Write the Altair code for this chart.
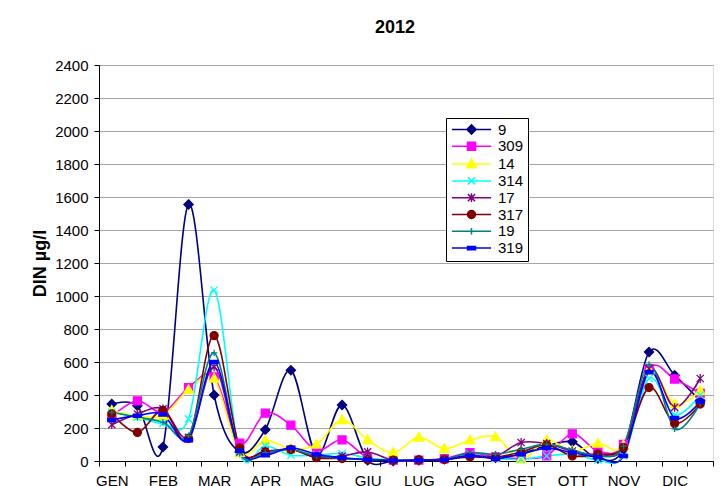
import altair as alt
import pandas as pd

FONT = "Liberation Sans"

months = ["GEN", "FEB", "MAR", "APR", "MAG", "GIU", "LUG", "AGO", "SET", "OTT", "NOV", "DIC"]
series_names = ["9", "309", "14", "314", "17", "317", "19", "319"]
colors = ["#000080", "#FF00FF", "#FFFF00", "#00FFFF", "#800080", "#800000", "#008080", "#0000FF"]

# two samplings per month (24 points)
s9 = [345, 335, 85, 1555, 400, 55, 190, 550, 40, 340, 5, 0, 5, 10, 40, 20, 45, 92, 116, 16, 75, 660, 520, 365]
s309 = [270, 365, 295, 445, 510, 108, 290, 217, 65, 128, 20, 5, 5, 15, 50, 24, 16, 31, 165, 61, 100, 560, 497, 410]
s14 = [305, 275, 275, 432, 500, 50, 124, 75, 100, 249, 128, 51, 143, 75, 126, 145, 10, 125, 61, 106, 95, 552, 345, 425]
s314 = [295, 265, 228, 255, 1035, 50, 92, 35, 37, 45, 20, 5, 5, 10, 40, 16, 10, 31, 41, 6, 30, 500, 280, 400]
s17 = [220, 285, 316, 143, 570, 55, 60, 70, 25, 30, 55, 5, 5, 10, 35, 30, 112, 106, 61, 41, 80, 560, 325, 500]
s317 = [286, 173, 306, 137, 760, 80, 55, 70, 20, 15, 8, 5, 6, 10, 24, 24, 55, 98, 31, 41, 83, 445, 228, 345]
s19 = [296, 265, 235, 153, 655, 48, 50, 70, 30, 16, 10, 5, 5, 10, 51, 41, 71, 102, 67, 30, 90, 585, 195, 350]
s319 = [249, 275, 282, 126, 600, 62, 35, 80, 40, 20, 8, 3, 5, 8, 31, 14, 41, 78, 51, 24, 30, 538, 260, 360]

all_series = [s9, s309, s14, s314, s17, s317, s19, s319]

rows = []
for k, (name, vals) in enumerate(zip(series_names, all_series)):
    for i, v in enumerate(vals):
        rows.append({"series": name, "pos": i + 0.5, "din": v, "k": k})
df = pd.DataFrame(rows)

circle = "M-1,0A1,1,0,1,1,1,0A1,1,0,1,1,-1,0Z"
marker_paths = [
    "M0,-1.15L1.15,0L0,1.15L-1.15,0Z",          # diamond
    "M-1,-1H1V1H-1Z",                            # square
    "M0,-1.25L1.2,0.9L-1.2,0.9Z",               # triangle
    "M-0.9,-0.9L0.9,0.9M-0.9,0.9L0.9,-0.9",     # x
    "M-0.9,-0.9L0.9,0.9M-0.9,0.9L0.9,-0.9M0,-1.1V1.1",  # star
    circle,                                       # circle
    "M-0.8,0H0.8M0,-0.8V0.8",                   # plus
    "M-1,-0.4H1V0.4H-1Z",                        # dash
]
legend_paths = ["M-4.9,0H4.9" + p for p in marker_paths]

label_expr = (
    "datum.value % 2 == 0 && datum.value < 24 ? "
    + "[" + ",".join("'" + m + "'" for m in months) + "][datum.value / 2] : ''"
)

x_enc = alt.X(
    "pos:Q",
    scale=alt.Scale(domain=[0, 24], nice=False, zero=False),
    axis=alt.Axis(
        values=list(range(25)), labelExpr=label_expr, labelOffset=12.8, labelAlign="center",
        labelFlush=False, labelOverlap=False, tickSize=5, labelPadding=7, grid=False,
        domainColor="black", tickColor="black", labelColor="black", labelFontSize=15,
        labelFont=FONT, title=None,
    ),
)
y_enc = alt.Y(
    "din:Q",
    scale=alt.Scale(domain=[0, 2400], nice=False),
    axis=alt.Axis(
        values=list(range(0, 2401, 200)), format="d", tickSize=5, labelPadding=6, grid=True,
        gridColor="#a6a6a6", domainColor="black", tickColor="black", labelColor="black",
        labelFontSize=15, labelFont=FONT, title="DIN µg/l", titleFont=FONT, titleFontSize=18,
        titleFontWeight="bold", titleColor="black", titleX=-59, titleY=198, titleAngle=270,
        titleAlign="center", titleBaseline="middle",
    ),
)

cscale = alt.Scale(domain=series_names, range=colors)

lines = alt.Chart(df).mark_line(interpolate="cardinal", strokeWidth=1.6).encode(
    x=x_enc, y=y_enc,
    color=alt.Color("series:N", scale=cscale, legend=None),
)

points = alt.Chart(df).mark_point(filled=True, size=64, strokeWidth=1.3, opacity=1).encode(
    x=x_enc, y=y_enc,
    fill=alt.Fill("series:N", scale=cscale, legend=None),
    stroke=alt.Stroke("series:N", scale=cscale, legend=None),
    shape=alt.Shape("series:N", scale=alt.Scale(domain=series_names, range=marker_paths), legend=None),
)

leg = alt.Legend(
    title=None, orient="none", legendX=347, legendY=53, strokeColor="black", fillColor="white",
    padding=4, labelFontSize=15, labelFont=FONT, labelColor="black", symbolSize=64,
    symbolStrokeWidth=1.5, symbolOffset=14, labelOffset=19, rowPadding=0.8,
)

legend_layer = alt.Chart(df).transform_filter("false").mark_point(
    filled=True, size=64, strokeWidth=1.5, opacity=1
).encode(
    x=x_enc, y=y_enc,
    fill=alt.Fill("series:N", scale=alt.Scale(domain=series_names, range=colors), legend=leg),
    stroke=alt.Stroke("series:N", scale=alt.Scale(domain=series_names, range=colors), legend=leg),
    shape=alt.Shape("series:N", scale=alt.Scale(domain=series_names, range=legend_paths), legend=leg),
)

chart = (
    alt.layer(lines, points, legend_layer)
    .resolve_scale(shape="independent", fill="independent", stroke="independent")
    .properties(
        width=614, height=396, autosize="none",
        padding={"left": 91, "top": 57, "right": 4, "bottom": 30},
        title=alt.Title("2012", fontSize=18, fontWeight="bold", font=FONT, color="black",
                        dx=-11, offset=21, anchor="middle"),
    )
    .configure_view(stroke="#808080", strokeWidth=1)
    .configure(font=FONT, background="white")
)

chart.save("out.html", embed_options={"renderer": "svg", "actions": False})
